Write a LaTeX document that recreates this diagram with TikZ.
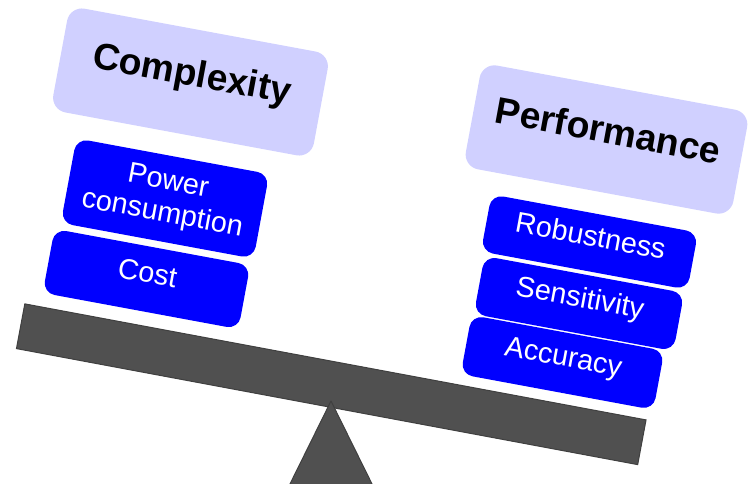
\documentclass[tikz,border=0pt]{standalone}
\usepackage{fontspec}
\setmainfont{Liberation Sans}
\definecolor{lav}{HTML}{D0D0FF}
\definecolor{myblue}{HTML}{0000FF}
\definecolor{beamgray}{HTML}{505050}
\definecolor{beamedge}{HTML}{404040}
\begin{document}
\begin{tikzpicture}[x=1pt,y=-1pt,
  hdr/.style={fill=lav, rounded corners=15pt, minimum height=105.5pt, inner sep=0pt,
    rotate=-10.5, font=\fontsize{37.3}{40}\selectfont\bfseries, text height=0.72em, text depth=0pt},
  item/.style={fill=myblue, text=white, rounded corners=12pt, inner sep=0pt,
    rotate=-10.5, font=\fontsize{28.8}{32.5}\selectfont},
  oneline/.style={item, text height=0.72em, text depth=0pt},
  solid/.style={fill=beamgray, draw=beamedge, line width=1pt}]
\useasboundingbox (0,0) rectangle (748,484);
\clip (0,0) rectangle (748,484);
% seesaw
\node[solid, minimum width=632pt, minimum height=45.5pt, inner sep=0pt, rotate=-10.58] (beam) at (331.25,384.25) {};
\draw[solid, line join=round] (331,401) -- (287,490) -- (375,490) -- cycle;
% left side
\node[hdr, minimum width=265pt] (complexity) at (190.5,82) {Complexity};
\node[item, minimum width=196pt, minimum height=86pt, align=center] (power) at (165,198.5) {Power\\consumption};
\node[oneline, minimum width=199pt, minimum height=65pt] (cost) at (146.5,279) {Cost};
% right side
\node[hdr, minimum width=272pt] (performance) at (606.5,139.5) {Performance};
\node[oneline, minimum width=210pt, minimum height=58pt] (robust) at (589.5,242) {Robustness};
\node[oneline, minimum width=203pt, minimum height=59pt] (sens) at (579,303.5) {Sensitivity};
\node[oneline, minimum width=196pt, minimum height=60pt] (acc) at (562.5,362.5) {Accuracy};
\end{tikzpicture}
\end{document}
